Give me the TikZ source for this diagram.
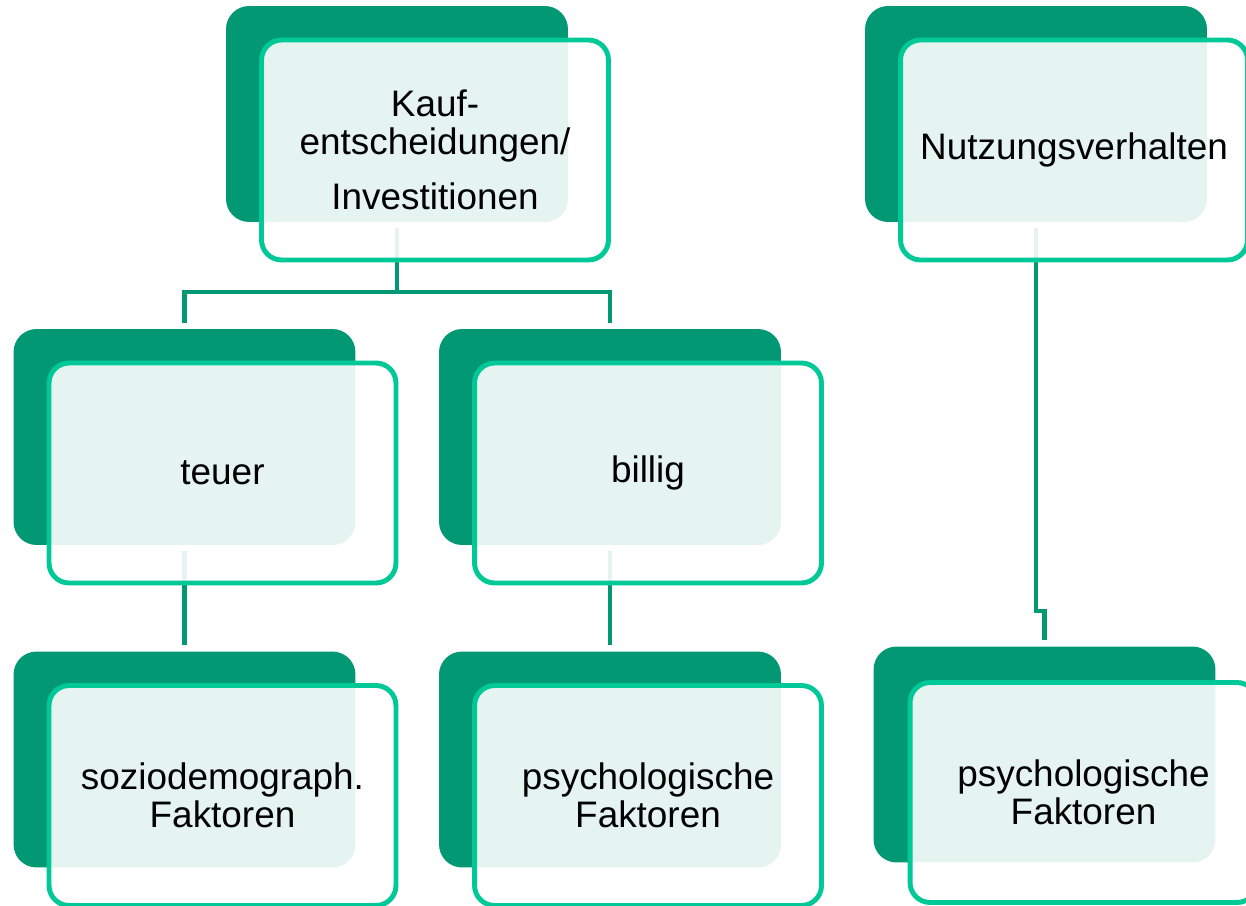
\documentclass[tikz,border=0pt]{standalone}
\usepackage{fontspec}
\setmainfont{Liberation Sans}
\usetikzlibrary{positioning, backgrounds}
\definecolor{darkmint}{RGB}{3,152,116}
\definecolor{brightmint}{RGB}{0,200,150}

\begin{document}
\begin{tikzpicture}[
    x=0.02cm, y=-0.02cm,
    back/.style={rectangle, rounded corners=0.46cm, minimum width=6.84cm, minimum height=4.32cm, inner sep=0pt, fill=darkmint},
    front/.style={rectangle, rounded corners=0.4cm, minimum width=6.94cm, minimum height=4.4cm, inner sep=0pt, text centered, align=center, draw=brightmint, line width=2.8pt, fill=white, fill opacity=0.9, text opacity=1, font=\fontsize{21}{21.5}\selectfont},
    conn/.style={draw=darkmint, line width=2.4pt, shorten <=3.4pt, shorten >=3.4pt}
]
\useasboundingbox (0,0) rectangle (1246,905);

% Boxes
\node (kaufB) [back] at (397,114) {};
\node (kauf) [front] at ([shift={(38,36)}]kaufB) {Kauf-\\entscheidungen/\\[9.7pt]Investitionen};
\node (nutzB) [back] at (1036,114) {};
\node (nutz) [front] at ([shift={(38,36)}]nutzB) {Nutzungsverhalten};
\node (teuerB) [back] at (184.5,437) {};
\node (teuer) [front] at ([shift={(38,36)}]teuerB) {teuer};
\node (billigB) [back] at (610,437) {};
\node (billig) [front] at ([shift={(38,36)}]billigB) {billig};
\node (soziB) [back] at (184.5,759.5) {};
\node (sozi) [front] at ([shift={(38,36)}]soziB) {soziodemograph.\\Faktoren};
\node (psychB) [back] at (610,759.5) {};
\node (psych) [front] at ([shift={(38,36)}]psychB) {psychologische\\Faktoren};
\node (rpsychB) [back] at (1044.5,754.5) {};
\node (rpsych) [front] at ([shift={(39,38)}]rpsychB) {psychologische\\Faktoren};

% Lines
\begin{scope}[on background layer]
\draw [conn] (kaufB.south) -- ++(0,70) -| (teuerB.north);
\draw [conn] (kaufB.south) -- ++(0,70) -| (billigB.north);
\draw [conn] (teuerB) -- (soziB);
\draw [conn] (billigB) -- (psychB);
\draw [conn] (nutzB) |- ([shift={(0,-35)}]rpsychB.north) -- (rpsychB);
\end{scope}

\end{tikzpicture}
\end{document}
